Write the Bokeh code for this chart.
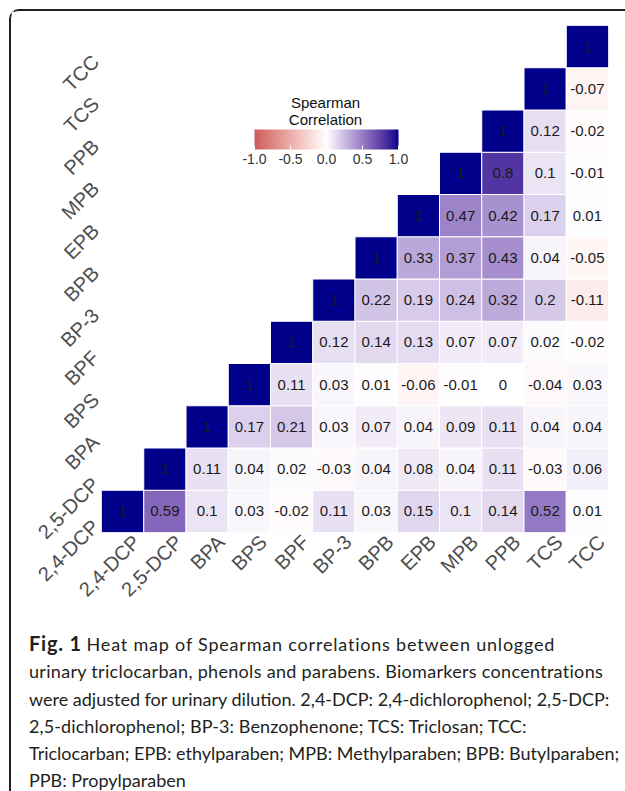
import math
from bokeh.plotting import figure
from bokeh.layouts import column
from bokeh.models import (ColumnDataSource, LinearColorMapper, ColorBar, Div,
                          FixedTicker, PrintfTickFormatter, Label, Range1d, LinearAxis)
from bokeh.embed import file_html
from bokeh.resources import INLINE
from bokeh.core.properties import value

# ---------------- data ----------------
biomarkers = ["2,4-DCP", "2,5-DCP", "BPA", "BPS", "BPF", "BP-3",
              "BPB", "EPB", "MPB", "PPB", "TCS", "TCC"]

# Spearman rho of each marker with itself and every marker to its right
rho_24dcp = [1, 0.59, 0.1, 0.03, -0.02, 0.11, 0.03, 0.15, 0.1, 0.14, 0.52, 0.01]
rho_25dcp = [1, 0.11, 0.04, 0.02, -0.03, 0.04, 0.08, 0.04, 0.11, -0.03, 0.06]
rho_bpa = [1, 0.17, 0.21, 0.03, 0.07, 0.04, 0.09, 0.11, 0.04, 0.04]
rho_bps = [1, 0.11, 0.03, 0.01, -0.06, -0.01, 0, -0.04, 0.03]
rho_bpf = [1, 0.12, 0.14, 0.13, 0.07, 0.07, 0.02, -0.02]
rho_bp3 = [1, 0.22, 0.19, 0.24, 0.32, 0.2, -0.11]
rho_bpb = [1, 0.33, 0.37, 0.43, 0.04, -0.05]
rho_epb = [1, 0.47, 0.42, 0.17, 0.01]
rho_mpb = [1, 0.8, 0.1, -0.01]
rho_ppb = [1, 0.12, -0.02]
rho_tcs = [1, -0.07]
rho_tcc = [1]

colorbar_ticks = [-1.0, -0.5, 0.0, 0.5, 1.0]

caption_bold = "Fig. 1"
caption_lines = [
    "Heat map of Spearman correlations between unlogged",
    "urinary triclocarban, phenols and parabens. Biomarkers concentrations",
    "were adjusted for urinary dilution. 2,4-DCP: 2,4-dichlorophenol; 2,5-DCP:",
    "2,5-dichlorophenol; BP-3: Benzophenone; TCS: Triclosan; TCC:",
    "Triclocarban; EPB: ethylparaben; MPB: Methylparaben; BPB: Butylparaben;",
    "PPB: Propylparaben",
]

# ---------------- colour scale (ggplot gradient2, Lab interpolation) ----------------
LOW, MID, HIGH = "#CD5C5C", "#FFFFFF", "#00008B"
WHITE_REF = (0.95047, 1.0, 1.08883)


def _hex_rgb(h):
    h = h.lstrip("#")
    return [int(h[i:i + 2], 16) / 255 for i in (0, 2, 4)]


def _to_lab(h):
    rgb = [c / 12.92 if c <= 0.04045 else ((c + 0.055) / 1.055) ** 2.4 for c in _hex_rgb(h)]
    r, g, b = rgb
    X = 0.4124564 * r + 0.3575761 * g + 0.1804375 * b
    Y = 0.2126729 * r + 0.7151522 * g + 0.0721750 * b
    Z = 0.0193339 * r + 0.1191920 * g + 0.9503041 * b
    d = 6 / 29

    def f(t):
        return t ** (1 / 3) if t > d ** 3 else t / (3 * d * d) + 4 / 29
    fx, fy, fz = f(X / WHITE_REF[0]), f(Y / WHITE_REF[1]), f(Z / WHITE_REF[2])
    return (116 * fy - 16, 500 * (fx - fy), 200 * (fy - fz))


def _from_lab(L, a, b):
    d = 6 / 29
    fy = (L + 16) / 116
    fx = fy + a / 500
    fz = fy - b / 200

    def finv(t):
        return t ** 3 if t > d else 3 * d * d * (t - 4 / 29)
    X, Y, Z = WHITE_REF[0] * finv(fx), WHITE_REF[1] * finv(fy), WHITE_REF[2] * finv(fz)
    r = 3.2404542 * X - 1.5371385 * Y - 0.4985314 * Z
    g = -0.9692660 * X + 1.8760108 * Y + 0.0415560 * Z
    bb = 0.0556434 * X - 0.2040259 * Y + 1.0572252 * Z
    out = []
    for c in (r, g, bb):
        c = max(c, 0.0)
        c = 12.92 * c if c <= 0.0031308 else 1.055 * c ** (1 / 2.4) - 0.055
        out.append(min(255, max(0, round(c * 255))))
    return "#%02x%02x%02x" % tuple(out)


LAB = [_to_lab(c) for c in (LOW, MID, HIGH)]


def rho_colour(v):
    t = (v + 1) / 2
    if t <= 0.5:
        a, b, u = LAB[0], LAB[1], t / 0.5
    else:
        a, b, u = LAB[1], LAB[2], (t - 0.5) / 0.5
    return _from_lab(*[a[k] + (b[k] - a[k]) * u for k in range(3)])


palette = [rho_colour(-1 + 2 * i / 255) for i in range(256)]

# ---------------- long table (category index -> cell centre) ----------------
rows = [rho_24dcp, rho_25dcp, rho_bpa, rho_bps, rho_bpf, rho_bp3,
        rho_bpb, rho_epb, rho_mpb, rho_ppb, rho_tcs, rho_tcc]
xs, ys, xn, yn, vals, cols, txt = [], [], [], [], [], [], []
for i, row in enumerate(rows):
    for k, v in enumerate(row):
        j = i + k
        xn.append(biomarkers[j])
        yn.append(biomarkers[i])
        xs.append(j + 0.5)
        ys.append(i + 0.5)
        vals.append(v)
        cols.append(rho_colour(v))
        txt.append(f"{v:g}")
src = ColumnDataSource(dict(x=xs, y=ys, xname=xn, yname=yn, rho=vals,
                            color=cols, label=txt))

# ---------------- figure ----------------
n = len(biomarkers)
p = figure(x_range=Range1d(0, n), y_range=Range1d(0, n), width=614, height=601,
           output_backend="svg", toolbar_location=None,
           x_axis_location=None, y_axis_location=None,
           min_border_left=90, min_border_right=17, min_border_top=14,
           min_border_bottom=80)
p.outline_line_color = None
p.xgrid.grid_line_color = None
p.ygrid.grid_line_color = None

p.rect(x="x", y="y", width=1, height=1, source=src, fill_color="color",
       line_color="white", line_width=1)
p.text(x="x", y="y", text="label", source=src, text_align="center",
       text_baseline="middle", text_font=value("Liberation Sans"),
       text_font_size="15px", text_color="#1a1a1a")

# category axes (labels offset like ggplot's hjust/vjust on rotated text)
X_SHIFT, Y_SHIFT = 0.33, 0.28
p.extra_x_ranges = {"xlab": Range1d(start=-0.5 - X_SHIFT, end=n - 0.5 - X_SHIFT)}
p.extra_y_ranges = {"ylab": Range1d(start=-0.5 + Y_SHIFT, end=n - 0.5 + Y_SHIFT)}
name_map = {i: name for i, name in enumerate(biomarkers)}
xax = LinearAxis(x_range_name="xlab", ticker=FixedTicker(ticks=list(range(n))),
                 major_label_overrides=name_map)
yax = LinearAxis(y_range_name="ylab", ticker=FixedTicker(ticks=list(range(n))),
                 major_label_overrides=name_map)
for ax in (xax, yax):
    ax.major_label_orientation = math.pi / 4
    ax.axis_line_color = None
    ax.major_tick_line_color = None
    ax.minor_tick_line_color = None
    ax.major_label_text_font = "Liberation Sans"
    ax.major_label_text_font_size = "20px"
    ax.major_label_text_color = "#4d4d4d"
    ax.major_label_standoff = 0
p.add_layout(xax, "below")
p.add_layout(yax, "left")

mapper = LinearColorMapper(palette=palette, low=-1, high=1)
cb = ColorBar(color_mapper=mapper, orientation="horizontal", location=(153, 366),
              width=144, height=20, padding=0,
              ticker=FixedTicker(ticks=colorbar_ticks),
              formatter=PrintfTickFormatter(format="%.1f"),
              major_tick_in=4, major_tick_out=0, major_tick_line_color="white",
              minor_tick_line_color=None, bar_line_color=None,
              border_line_color=None, background_fill_alpha=0,
              major_label_text_font="Liberation Sans",
              major_label_text_font_size="14px",
              major_label_text_color="#333333", label_standoff=4)
p.add_layout(cb, "center")

UNIT = 42.25  # px per category in the reference


def dx(px):
    return (px - 101) / UNIT


def dy(py):
    return (532 - py) / UNIT


for t, yy in (("Spearman", 102), ("Correlation", 119)):
    p.add_layout(Label(x=dx(325), y=dy(yy), text=t, text_align="center",
                       text_baseline="middle", text_font="Liberation Sans",
                       text_font_size="15px", text_color="#111111"))

# caption (per-line tracking to follow the reference's line lengths)
tracking = ["0.8px", "0.3px", "0px", "0.1px", "0px", "0px"]
html_lines = []
for k, (line, ls) in enumerate(zip(caption_lines, tracking)):
    body = f'<span style="letter-spacing:{ls}">{line}</span>'
    if k == 0:
        body = (f'<b style="font-size:20px;letter-spacing:0.8px">{caption_bold}</b> '
                + body)
    html_lines.append(body)
cap = Div(text="<br>".join(html_lines), width=614, height=179,
          styles={"font-family": "Lato", "font-size": "18px",
                  "line-height": "27.3px", "color": "#231f20",
                  "white-space": "nowrap", "padding-left": "13px",
                  "padding-top": "13px", "box-sizing": "border-box"})

layout = column(p, cap, spacing=0,
                styles={"margin-left": "9px", "margin-top": "9px",
                        "border-left": "2px solid #231f20",
                        "border-top": "2px solid #231f20",
                        "border-top-left-radius": "10px",
                        "background-color": "white"})

open("out.html", "w").write(file_html(layout, INLINE))
